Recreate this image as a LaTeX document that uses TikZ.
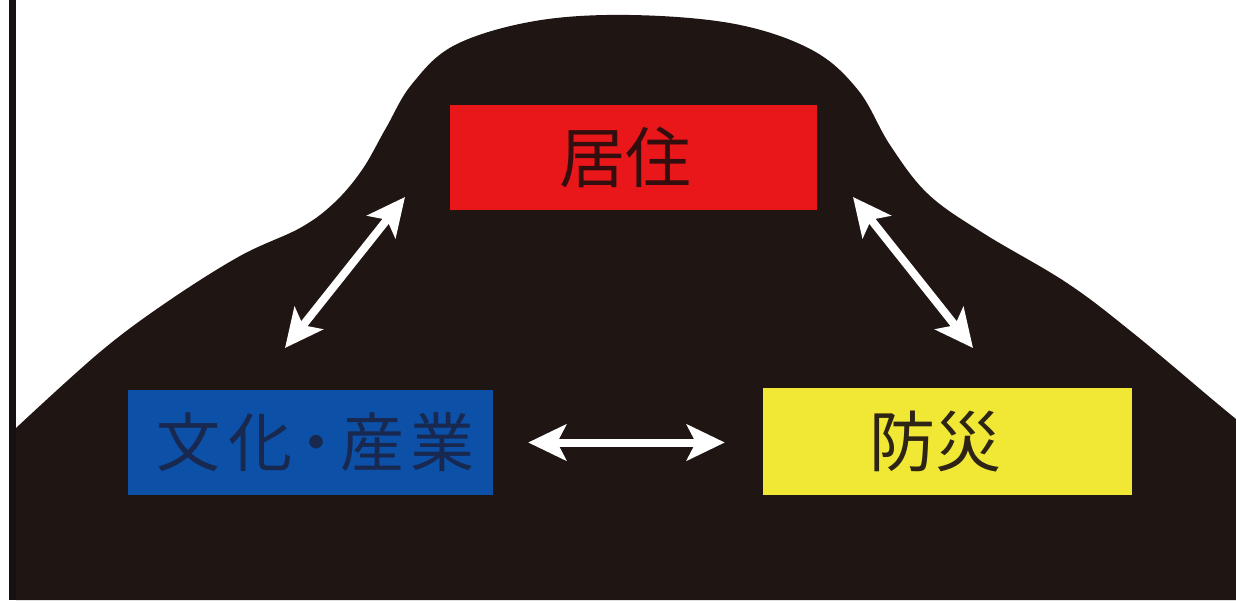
\documentclass[tikz,border=0pt]{standalone}
\usepackage{fontspec}
\newfontfamily\cjk{Noto Sans CJK JP}
\usetikzlibrary{arrows.meta}
\definecolor{mount}{RGB}{31,21,19}
\definecolor{edge}{RGB}{22,18,18}
\definecolor{boxred}{RGB}{233,22,26}
\definecolor{boxblue}{RGB}{12,80,168}
\definecolor{boxyellow}{RGB}{240,232,52}
\definecolor{txtred}{RGB}{50,14,14}
\definecolor{txtblue}{RGB}{24,40,78}
\definecolor{txtyellow}{RGB}{45,36,22}
\tikzset{
  tbox/.style={rectangle, inner sep=0pt, font=\cjk\fontsize{66}{66}\selectfont},
  biarrow/.style={draw=white, line width=8pt,
    {Stealth[length=38pt,width=36pt,inset=9pt]}-{Stealth[length=38pt,width=36pt,inset=9pt]}}
}
\begin{document}
\begin{tikzpicture}[x=1pt,y=-1pt]
\useasboundingbox (0,0) rectangle (1236,604);
\fill[white] (0,0) rectangle (1236,604);
% mountain
\fill[mount] (16,600) -- plot[smooth, tension=0.6] coordinates {
  (16,428) (100,352) (167,302) (240,256) (300,228) (334,203)
  (362,170) (386,128) (412,84) (455,45) (535,21) (630,15) (735,24)
  (812,50) (858,90) (890,145) (928,194) (983,233) (1067,283) (1133,333)
  (1213,400) (1236,419)} -- (1236,600) -- cycle;
% left frame line
\fill[edge] (9,0) rectangle (16,600);
% boxes
\node[tbox, fill=boxred, text=txtred, minimum width=367pt, minimum height=105pt]
  (red) at (633.5,157.5) {居住\kern16pt};
\node[tbox, fill=boxblue, text=txtblue, font=\cjk\fontsize{64}{64}\selectfont,
  minimum width=365pt, minimum height=105pt]
  (blue) at (310.5,442.5) {\kern10pt文\kern8pt化\kern-8pt・\kern-8pt産\kern6pt業};
\node[tbox, fill=boxyellow, text=txtyellow, minimum width=369pt, minimum height=107pt]
  (yellow) at (947.5,441.5) {防災\kern24pt};
% arrow end points
\coordinate (rl) at (405,197);
\coordinate (bl) at (285,348);
\coordinate (rr) at (853,197);
\coordinate (yr) at (973,348);
\draw[biarrow] (rl) -- (bl);
\draw[biarrow] (rr) -- (yr);
\draw[biarrow, shorten <=35pt, shorten >=38pt] (blue.east) -- (yellow.west |- blue.east);
\end{tikzpicture}
\end{document}
